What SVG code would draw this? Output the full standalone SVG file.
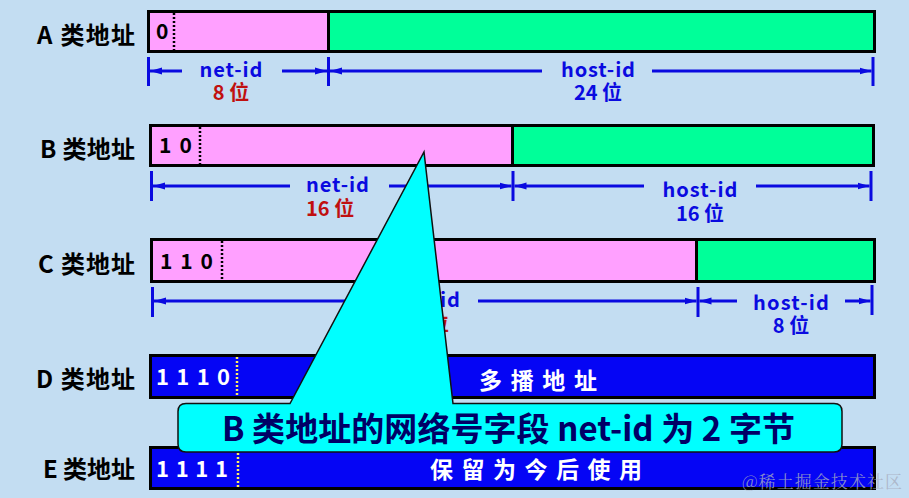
<svg xmlns="http://www.w3.org/2000/svg" width="909" height="498" viewBox="0 0 909 498">
<style>
.lbl{font-family:"Noto Sans CJK SC","Noto Sans",sans-serif;font-weight:700;font-size:24px;fill:#000;text-anchor:end}
.bits{font-family:"Noto Sans CJK SC","Noto Sans",sans-serif;font-weight:700;font-size:21px;fill:#000}
.wbits{font-family:"Noto Sans CJK SC","Noto Sans",sans-serif;font-weight:700;font-size:22px;fill:#fff}
.dim{font-family:"Noto Sans CJK SC","Noto Sans",sans-serif;font-weight:700;font-size:20px;fill:#0A0AE0}
.red{font-family:"Noto Sans CJK SC","Noto Sans",sans-serif;font-weight:700;font-size:20px;fill:#C01010}
.wt{font-family:"Noto Sans CJK SC","Noto Sans",sans-serif;font-weight:700;font-size:23px;fill:#fff}
.frame{fill:none;stroke:#000;stroke-width:3}
.pink{fill:#FFA0FF}
.green{fill:#00FF99}
.blue{fill:#0505F5}
.dot{stroke:#000;stroke-width:2.5;stroke-dasharray:2 2}
.ydot{stroke:#FFF060;stroke-width:2.5;stroke-dasharray:2 2}
.tick{stroke:#0A0AE0;stroke-width:3}
.arr{stroke:#0A0AE0;stroke-width:3;marker-end:url(#ah)}
.call{font-family:"Noto Sans CJK SC","Noto Sans",sans-serif;font-weight:700;font-size:33px;fill:#000066}
.wm{font-family:"Noto Serif CJK SC","Noto Sans CJK SC",serif;font-size:17px;fill:#A8AEC0;fill-opacity:0.8}
</style>
<defs>
<marker id="ah" markerUnits="userSpaceOnUse" markerWidth="13" markerHeight="9" refX="12" refY="4" orient="auto">
<path d="M0,0.5 L12,4 L0,7.5 Z" fill="#0A0AE0"/>
</marker>
</defs>
<rect x="0" y="0" width="909" height="498" fill="#C3DDF2"/>

<g id="rowA">
<text class="lbl" x="135" y="44" textLength="98">A 类地址</text>
<rect class="pink" x="148.5" y="11.5" width="180" height="40"/>
<rect class="green" x="328.5" y="11.5" width="546" height="40"/>
<rect class="frame" x="148.5" y="11.5" width="726" height="40"/>
<line x1="328.5" y1="11.5" x2="328.5" y2="51.5" stroke="#000" stroke-width="3"/>
<text class="bits" x="156" y="39">0</text>
<line class="dot" x1="174" y1="13" x2="174" y2="51"/>
<text class="dim" x="231" y="77" text-anchor="middle" textLength="63">net-id</text>
<text class="red" x="231" y="100" text-anchor="middle">8 位</text>
<text class="dim" x="598" y="77" text-anchor="middle" textLength="74">host-id</text>
<text class="dim" x="598" y="100" text-anchor="middle">24 位</text>
</g>

<g id="rowB">
<text class="lbl" x="135" y="158" textLength="95">B 类地址</text>
<rect class="pink" x="150.5" y="125.5" width="362" height="40"/>
<rect class="green" x="512.5" y="125.5" width="361" height="40"/>
<rect class="frame" x="150.5" y="125.5" width="723" height="40"/>
<line x1="512.5" y1="125.5" x2="512.5" y2="165.5" stroke="#000" stroke-width="3"/>
<text class="bits" x="159" y="153" textLength="33">1 0</text>
<line class="dot" x1="200" y1="127" x2="200" y2="165"/>
<text class="dim" x="306" y="192" textLength="63">net-id</text>
<text class="red" x="306" y="216">16 位</text>
<text class="dim" x="700" y="197" text-anchor="middle" textLength="75">host-id</text>
<text class="dim" x="700" y="221" text-anchor="middle">16 位</text>
</g>

<g id="rowC">
<text class="lbl" x="135" y="273" textLength="97">C 类地址</text>
<rect class="pink" x="151.5" y="239.5" width="545" height="42"/>
<rect class="green" x="696.5" y="239.5" width="178" height="42"/>
<rect class="frame" x="151.5" y="239.5" width="723" height="42"/>
<line x1="696.5" y1="239.5" x2="696.5" y2="281.5" stroke="#000" stroke-width="3"/>
<text class="bits" x="160" y="269" textLength="53">1 1 0</text>
<line class="dot" x1="222" y1="241" x2="222" y2="280"/>
<text class="dim" x="460" y="307" text-anchor="end" textLength="63">net-id</text>
<text class="red" x="449" y="331" text-anchor="end">24 位</text>
<text class="dim" x="791" y="310" text-anchor="middle" textLength="76">host-id</text>
<text class="dim" x="791" y="333" text-anchor="middle">8 位</text>
</g>

<g id="rowD">
<text class="lbl" x="135" y="388" textLength="99">D 类地址</text>
<rect class="blue" x="150.5" y="355.5" width="724" height="42"/>
<rect class="frame" x="150.5" y="355.5" width="724" height="42"/>
<text class="wbits" x="156" y="385" textLength="74">1 1 1 0</text>
<line class="ydot" x1="237" y1="357" x2="237" y2="396"/>
<text class="wt" x="479" y="389" textLength="118">多 播 地 址</text>
</g>

<g id="rowE">
<text class="lbl" x="135" y="478" textLength="92">E 类地址</text>
<rect class="blue" x="150.5" y="447.5" width="724" height="41"/>
<rect class="frame" x="150.5" y="447.5" width="724" height="41"/>
<text class="wbits" x="156" y="477" textLength="72">1 1 1 1</text>
<line class="ydot" x1="238" y1="449" x2="238" y2="488"/>
<text class="wt" x="430" y="478" textLength="212">保 留 为 今 后 使 用</text>
</g>

<g id="connectors">
<line class="tick" x1="148.5" y1="57" x2="148.5" y2="86"/>
<line class="tick" x1="328.5" y1="57" x2="328.5" y2="86"/>
<line class="tick" x1="873" y1="57" x2="873" y2="86"/>
<line class="arr" x1="182" y1="71" x2="150" y2="71"/>
<line class="arr" x1="282" y1="71" x2="327" y2="71"/>
<line class="arr" x1="542" y1="71" x2="330" y2="71"/>
<line class="arr" x1="652" y1="71" x2="871.5" y2="71"/>

<line class="tick" x1="151.5" y1="171" x2="151.5" y2="201"/>
<line class="tick" x1="513" y1="171" x2="513" y2="201"/>
<line class="tick" x1="871" y1="171" x2="871" y2="201"/>
<line class="arr" x1="290" y1="186" x2="153" y2="186"/>
<line class="arr" x1="389" y1="186" x2="511.5" y2="186"/>
<line class="arr" x1="644" y1="186" x2="514.5" y2="186"/>
<line class="arr" x1="756" y1="186" x2="869.5" y2="186"/>

<line class="tick" x1="152.5" y1="287" x2="152.5" y2="317"/>
<line class="tick" x1="698" y1="287" x2="698" y2="317"/>
<line class="tick" x1="872" y1="285" x2="872" y2="315"/>
<line class="arr" x1="385" y1="301" x2="154" y2="301"/>
<line class="arr" x1="478" y1="301" x2="696.5" y2="301"/>
<line class="arr" x1="737" y1="301" x2="699.5" y2="301"/>
<line class="arr" x1="845" y1="301" x2="870.5" y2="301"/>
</g>

<g id="callout">
<path d="M186,403.5 L290,403.5 L424,152 L453,403.5 L834,403.5 Q842,403.5 842,411.5 L842,444 Q842,452 834,452 L186,452 Q178,452 178,444 L178,411.5 Q178,403.5 186,403.5 Z" fill="#00FFFF" stroke="#111" stroke-width="1.5" stroke-linejoin="miter"/>
<text class="call" x="222" y="441" textLength="573">B 类地址的网络号字段 net-id 为 2 字节</text>
</g>

<text class="wm" x="742" y="488" textLength="160">@稀土掘金技术社区</text>
</svg>
